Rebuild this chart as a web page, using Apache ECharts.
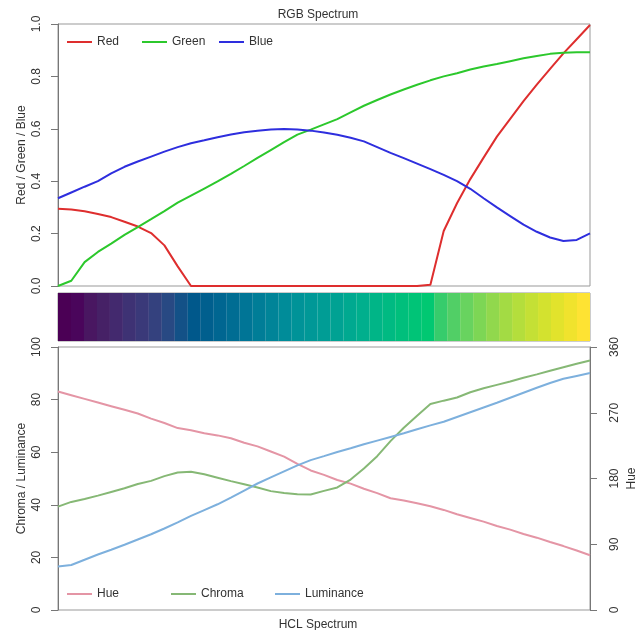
<!DOCTYPE html>
<html>
<head>
<meta charset="utf-8">
<title>Spectrum plot</title>
<script src="https://cdn.jsdelivr.net/npm/echarts@6/dist/echarts.min.js"></script>
<style>
  html, body { margin: 0; padding: 0; background: #fff; }
  #chart { width: 636px; height: 630px; }
</style>
</head>
<body>
<div id="chart"></div>
<script>
// values, 41 evenly spaced steps along the palette
const red = [0.295, 0.292, 0.285, 0.275, 0.263, 0.245, 0.227, 0.202, 0.155, 0.075,
  0, 0, 0, 0, 0, 0, 0, 0, 0, 0,
  0, 0, 0, 0, 0, 0, 0, 0, 0.005, 0.21,
  0.316, 0.408, 0.49, 0.57, 0.638, 0.706, 0.769, 0.829, 0.888, 0.942, 0.996]
const green = [0, 0.02, 0.091, 0.13, 0.162, 0.195, 0.225, 0.255, 0.286, 0.318,
  0.345, 0.372, 0.399, 0.428, 0.458, 0.489, 0.519, 0.549, 0.578, 0.597,
  0.617, 0.637, 0.663, 0.688, 0.71, 0.731, 0.75, 0.768, 0.785, 0.8,
  0.812, 0.826, 0.838, 0.847, 0.858, 0.869, 0.878, 0.886, 0.89, 0.892, 0.892]
const blue = [0.335, 0.357, 0.379, 0.40, 0.43, 0.455, 0.475, 0.494, 0.513, 0.53,
  0.545, 0.556, 0.568, 0.578, 0.587, 0.593, 0.597, 0.599, 0.597, 0.593,
  0.586, 0.577, 0.566, 0.552, 0.53, 0.508, 0.488, 0.467, 0.446, 0.424,
  0.40, 0.371, 0.335, 0.30, 0.267, 0.234, 0.207, 0.185, 0.172, 0.176, 0.201]

const hue = [299, 294, 289, 284, 279, 274, 269, 262, 256, 249,
  246, 242, 239, 235, 229, 224, 217, 210, 200, 191,
  185, 178, 173, 166, 160, 153, 150, 146, 142, 137,
  131, 126, 121, 115, 110, 104, 99, 93, 87.5, 81.5, 75]
const chroma = [39.3, 41.1, 42.2, 43.5, 44.9, 46.3, 47.9, 49.1, 50.9, 52.3,
  52.6, 51.6, 50.3, 49, 47.8, 46.6, 45.2, 44.5, 44, 43.9,
  45.3, 46.6, 49.6, 53.8, 58.5, 64.2, 69.3, 73.9, 78.3, 79.6,
  80.8, 82.8, 84.3, 85.6, 86.9, 88.3, 89.6, 91, 92.3, 93.6, 94.9]
const luminance = [16.5, 17.1, 19.1, 21.1, 22.9, 24.8, 26.8, 28.8, 31, 33.3,
  35.8, 38, 40.2, 42.7, 45.4, 48.1, 50.4, 52.7, 55, 57,
  58.5, 60.1, 61.5, 63, 64.4, 65.8, 67.2, 68.7, 70.2, 71.6,
  73.4, 75.2, 77, 78.8, 80.7, 82.6, 84.5, 86.3, 87.9, 89, 90.1]

const rgbTicks = [0, 0.2, 0.4, 0.6, 0.8, 1]
const steps = red.map((_, i) => i)

const font = 'Liberation Sans, Arial, sans-serif'
const axisGrey = '#777'
const textGrey = '#333'

// palette swatches, built from the rgb curves
const swatches = red.map((r, i) => {
  const c = [r, green[i], blue[i]].map(v => Math.round(v * 255))
  return { value: 1, itemStyle: { color: `rgb(${c[0]},${c[1]},${c[2]})` } }
})

const valueAxis = (grid, min, max, interval, name, gap, margin, fmt) => ({
  gridIndex: grid,
  type: 'value',
  min, max, interval,
  name,
  nameLocation: 'middle',
  nameGap: gap,
  nameRotate: 90,
  nameMoveOverlap: false,
  nameTextStyle: { fontSize: 12, color: textGrey, fontFamily: font },
  axisLine: { show: true, lineStyle: { color: axisGrey } },
  axisTick: { show: true, length: 7, lineStyle: { color: axisGrey } },
  splitLine: { show: false },
  axisLabel: { rotate: 90, margin, fontSize: 12, color: textGrey, fontFamily: font, formatter: fmt }
})

const legendAt = (name, left, top) => ({
  data: [name],
  left, top,
  icon: 'rect',
  itemWidth: 25,
  itemHeight: 2,
  textStyle: { fontSize: 12, color: textGrey, fontFamily: font }
})

const line = (name, data, color, xi, yi) => ({
  name, type: 'line', data,
  xAxisIndex: xi, yAxisIndex: yi,
  symbol: 'none',
  lineStyle: { color, width: 2 },
  itemStyle: { color }
})

const chart = echarts.init(document.getElementById('chart'))
chart.setOption({
  animation: false,
  title: [
    { text: 'RGB Spectrum', left: 'center', top: 4, textStyle: { fontSize: 12, fontWeight: 'normal', color: textGrey, fontFamily: font } },
    { text: 'HCL Spectrum', left: 'center', top: 614, textStyle: { fontSize: 12, fontWeight: 'normal', color: textGrey, fontFamily: font } }
  ],
  legend: [
    legendAt('Red', 62, 31),
    legendAt('Green', 137, 31),
    legendAt('Blue', 214, 31),
    legendAt('Hue', 62, 583),
    legendAt('Chroma', 166, 583),
    legendAt('Luminance', 270, 583)
  ],
  grid: [
    { left: 58, right: 46, top: 24, height: 262, show: true, borderColor: '#999', borderWidth: 1, outerBoundsMode: 'none' },
    { left: 58, right: 46, top: 293, height: 48, show: true, borderColor: '#999', borderWidth: 1, outerBoundsMode: 'none' },
    { left: 58, right: 46, top: 347, height: 263, show: true, borderColor: '#999', borderWidth: 1, outerBoundsMode: 'none' }
  ],
  xAxis: [
    { gridIndex: 0, type: 'category', data: steps, boundaryGap: false, show: false },
    { gridIndex: 1, type: 'category', data: steps, boundaryGap: true, show: false },
    { gridIndex: 2, type: 'category', data: steps, boundaryGap: false, show: false }
  ],
  yAxis: [
    valueAxis(0, rgbTicks[0], rgbTicks[rgbTicks.length - 1], 0.2, 'Red / Green / Blue', 30, 15, v => v.toFixed(1)),
    { gridIndex: 1, type: 'value', min: 0, max: 1, show: false },
    valueAxis(2, 0, 100, 20, 'Chroma / Luminance', 30, 15),
    Object.assign(valueAxis(2, 0, 360, 90, 'Hue', 36, 19), { position: 'right' })
  ],
  series: [
    line('Red', red, '#DE2E2E', 0, 0),
    line('Green', green, '#2CC82C', 0, 0),
    line('Blue', blue, '#2E2EDE', 0, 0),
    {
      type: 'bar', data: swatches,
      xAxisIndex: 1, yAxisIndex: 1,
      barWidth: '101%', barGap: 0, silent: true
    },
    line('Hue', hue, '#E495A5', 2, 3),
    line('Chroma', chroma, '#86B875', 2, 2),
    line('Luminance', luminance, '#7DB0DD', 2, 2)
  ]
})
</script>
</body>
</html>
